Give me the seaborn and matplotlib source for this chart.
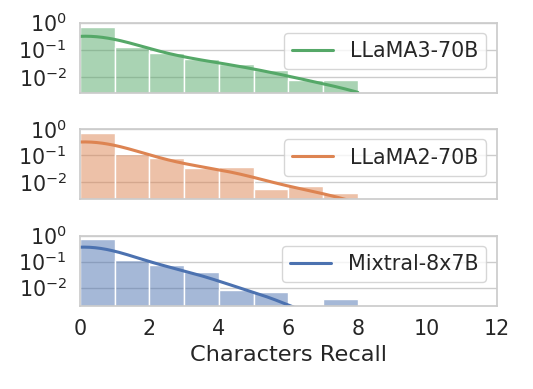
import numpy as np
import pandas as pd
import matplotlib
matplotlib.use("Agg")
import matplotlib.pyplot as plt
import seaborn as sns

# Recall values (characters recalled, 0..8) and the share of samples at each value
recall_values = [0, 1, 2, 3, 4, 5, 6, 7, 8]
llama3_share = [0.70, 0.133, 0.077, 0.046, 0.031, 0.018, 0.0079, 0.005, 0.0025]
llama2_share = [0.65, 0.10, 0.071, 0.029, 0.032, 0.005, 0.0066, 0.0023, 0.0012]
mixtral_share = [0.73, 0.117, 0.075, 0.038, 0.0081, 0.0066, 0.0, 0.0, 0.0034]

models = ["LLaMA3-70B", "LLaMA2-70B", "Mixtral-8x7B"]
shares = [llama3_share, llama2_share, mixtral_share]
bw_adjusts = [3.8, 4.1, 4.6]
y_bottoms = [0.0026, 0.0022, 0.002]
n_samples = 4000

sns.set_theme(style="whitegrid", font_scale=1.35)
palette = sns.color_palette("deep")
colors = [palette[2], palette[1], palette[0]]

fig, axes = plt.subplots(3, 1, figsize=(5.33, 3.89), dpi=100, sharex=True)
fig.subplots_adjust(left=0.15, right=0.932, top=0.942, bottom=0.214, hspace=0.52)

for ax, name, share, bw, ybot, color in zip(axes, models, shares, bw_adjusts,
                                            y_bottoms, colors):
    counts = np.round(np.array(share) * n_samples).astype(int)
    df = pd.DataFrame({"recall": np.repeat(recall_values, counts)})
    sns.histplot(data=df, x="recall", bins=range(0, 9), stat="probability",
                 kde=True, kde_kws={"bw_adjust": bw}, color=color,
                 line_kws={"linewidth": 2.2}, ax=ax)
    ax.set_yscale("log")
    ax.set_ylim(ybot, 1)
    ax.set_xlim(0, 12)
    ax.set_ylabel("")
    ax.xaxis.grid(False)
    line = ax.lines[0]
    line.set_label(name)
    ax.legend(handles=[line], loc="upper right")

axes[-1].set_xticks(range(0, 13, 2))
axes[-1].set_xlabel("Characters Recall")

plt.savefig("out.png", dpi=100)
